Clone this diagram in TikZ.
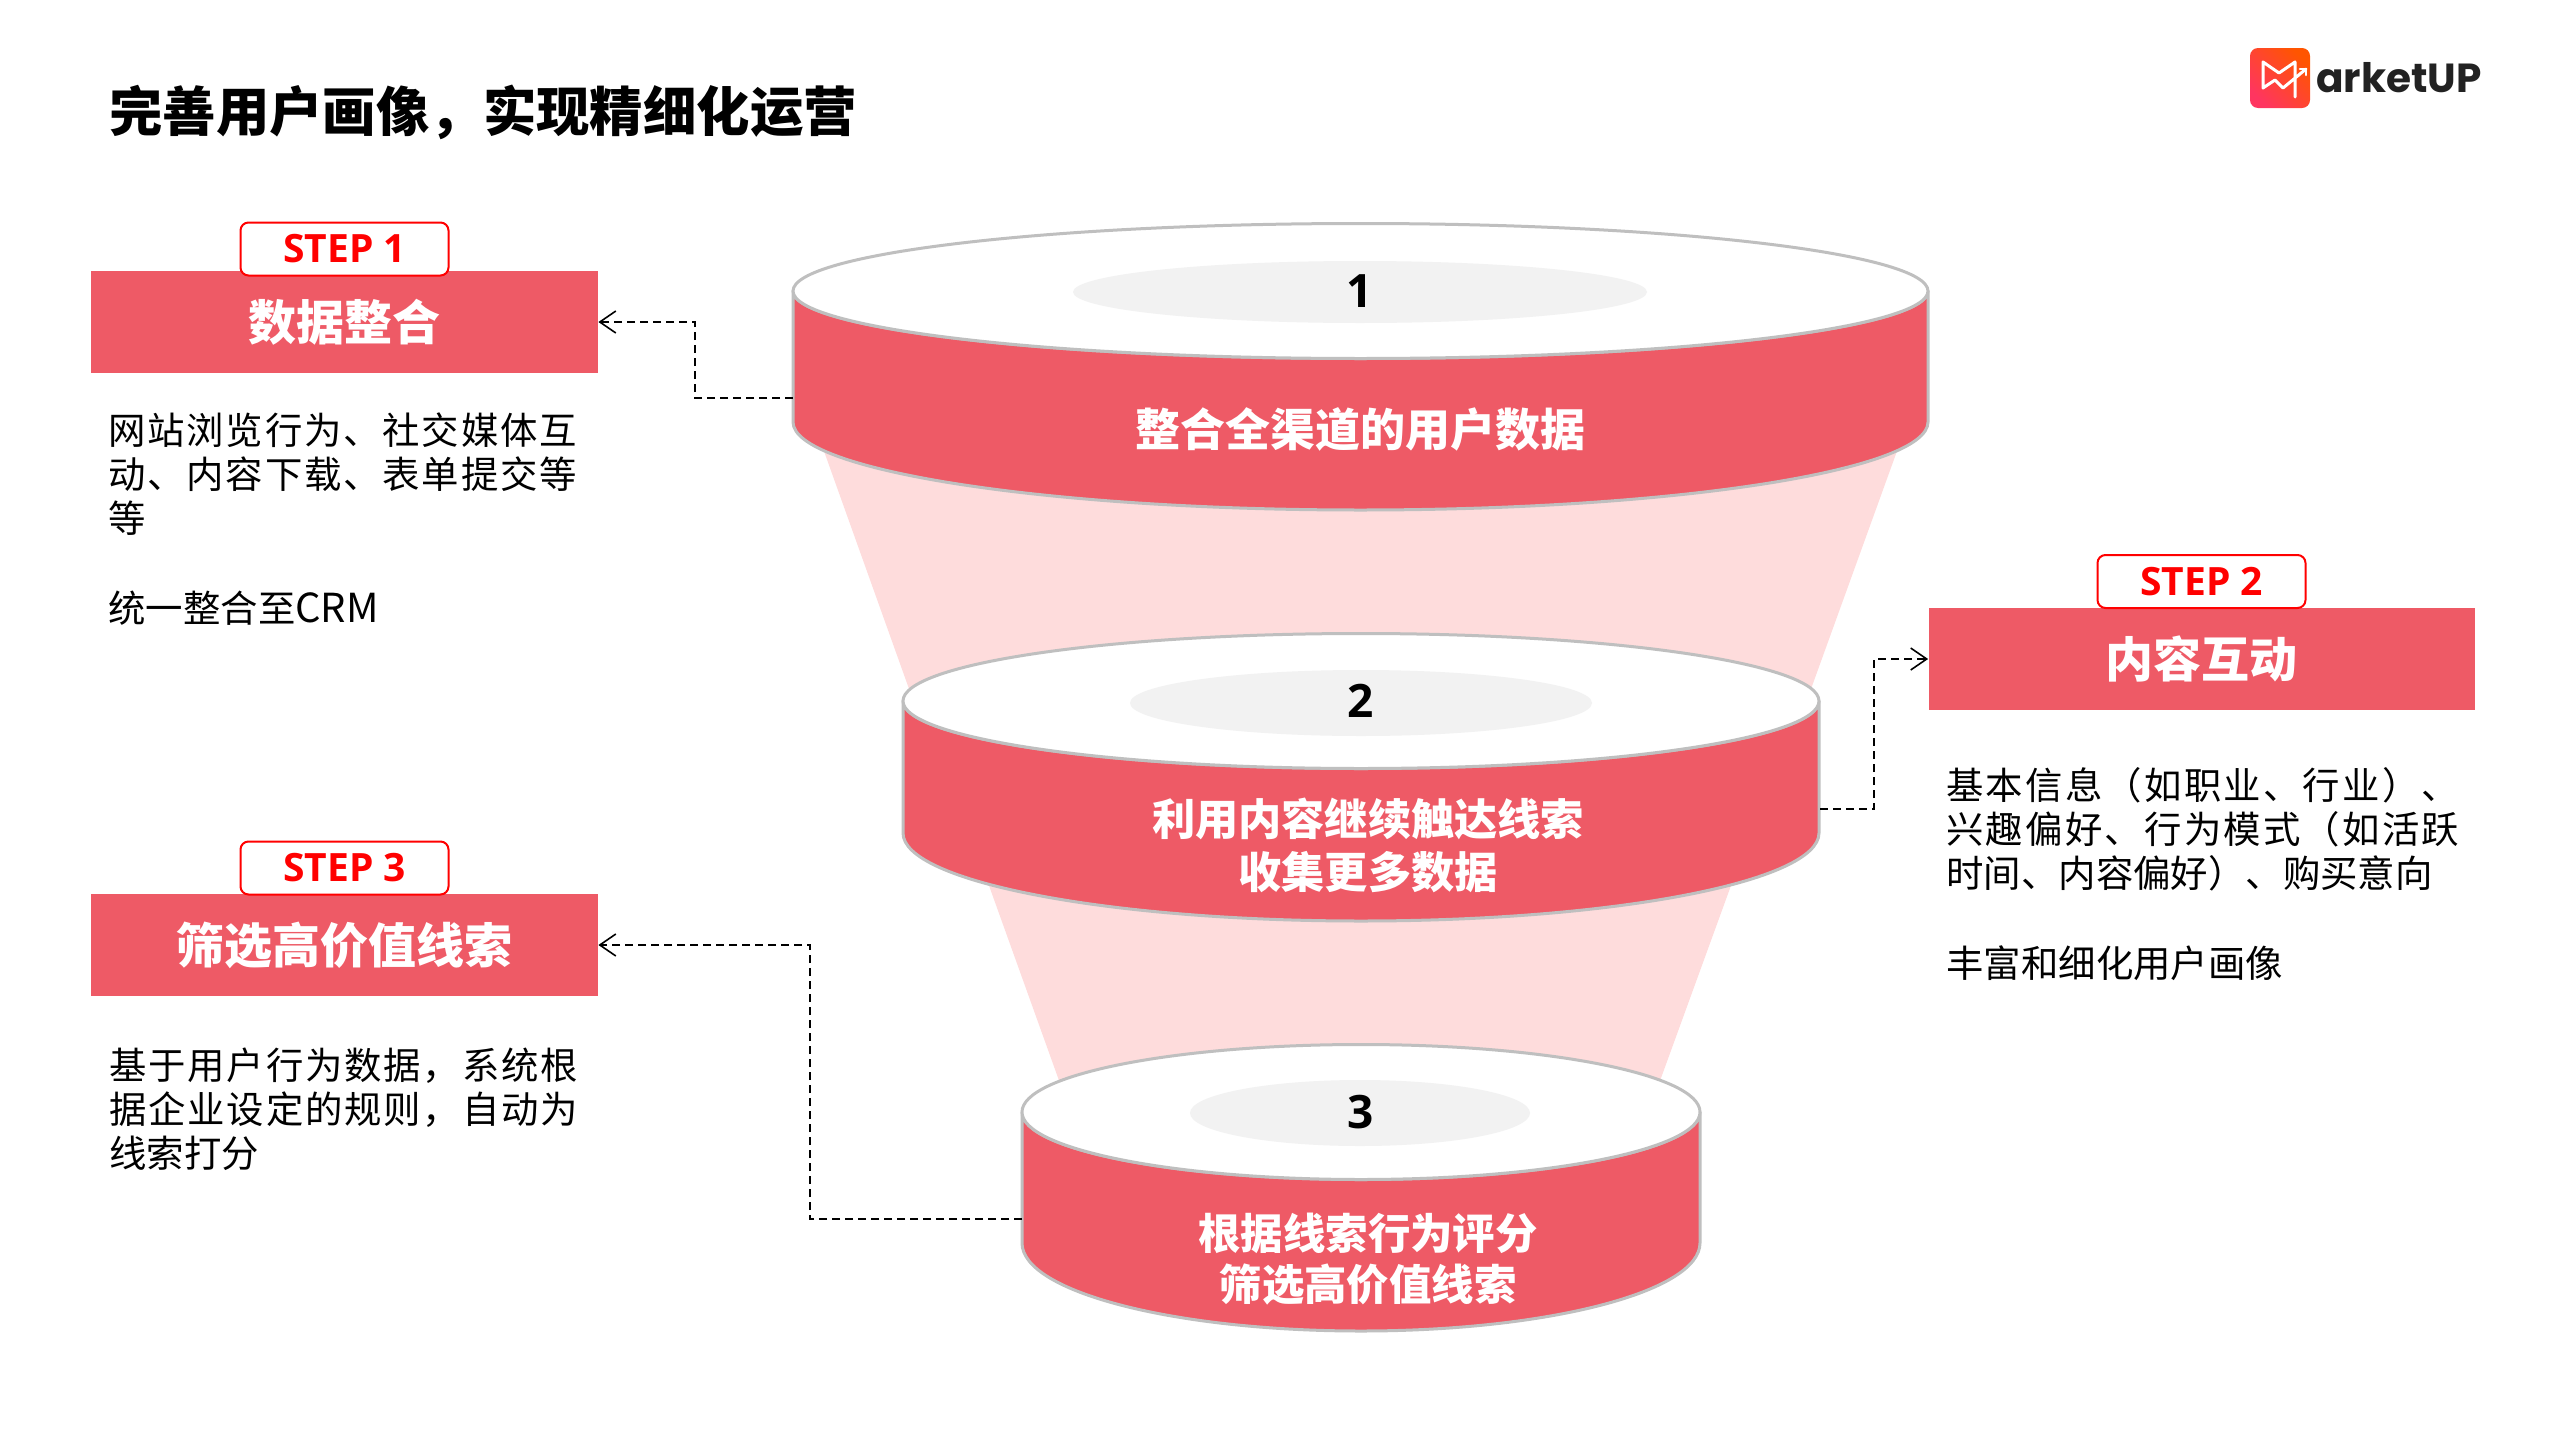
\documentclass[tikz,border=0pt]{standalone}
\usepackage{fontspec}
\setmainfont{Noto Sans CJK SC}
\newfontfamily\latinb{Open Sans}
\newfontfamily\logofont{Poppins}
\usetikzlibrary{arrows.meta}
\definecolor{boxred}{HTML}{EE5A66}
\definecolor{funnelpink}{HTML}{FEDCDC}
\definecolor{rimgrey}{HTML}{BFBFBF}
\definecolor{innergrey}{HTML}{F2F2F2}
\definecolor{logoa}{HTML}{FF3560}
\definecolor{logob}{HTML}{FF5500}
\definecolor{logotext}{HTML}{222222}
\newcommand{\diskshape}[5]{% cx, cy top, rx, ry, cy bottom-corner
  \path[fill=boxred,draw=rimgrey,line width=1.5pt,line join=round]
    (#1-#3,#2) -- (#1-#3,#5) arc[start angle=180,end angle=0,x radius=#3,y radius=88] -- (#1+#3,#2) arc[start angle=0,end angle=180,x radius=#3,y radius=#4] -- cycle;
  \path[fill=white,draw=rimgrey,line width=1.5pt] (#1,#2) ellipse[x radius=#3,y radius=#4];
}
\newcommand{\spreadA}[1]{{\addfontfeature{LetterSpace=4.8}#1}}
\newcommand{\spreadB}[1]{{\addfontfeature{LetterSpace=5.9}#1}}
\tikzset{
  x=0.5pt,y=-0.5pt,
  headbox/.style={fill=boxred,text=white,inner sep=0pt,font=\fontsize{24}{28}\selectfont\bfseries},
  stepbox/.style={draw=red,fill=white,line width=1pt,rounded corners=4pt,inner sep=0pt,text=red,minimum width=104pt,minimum height=26.5pt,font=\latinb\fontsize{19.5}{22}\selectfont\bfseries},
  bodytext/.style={anchor=north west,inner sep=0pt,align=left,font=\fontsize{18.7}{22}\selectfont,text=black},
  disklabel/.style={text=white,inner sep=0pt,align=center,font=\fontsize{21.6}{26.5}\selectfont\bfseries},
  disknum/.style={inner sep=0pt,text=black,font=\latinb\fontsize{23}{26}\selectfont\bfseries},
  link/.style={draw=black,line width=1pt,dashed,dash pattern=on 4pt off 2.5pt},
  linkhead/.style={-{Straight Barb[length=8pt,width=11pt,line width=0.8pt]}},
}
\begin{document}
\begin{tikzpicture}
\useasboundingbox (0,0) rectangle (2560,1440);
% funnels
\path[fill=funnelpink] (820,440) -- (1901,440) -- (1807,700) -- (913,700) -- cycle;
\path[fill=funnelpink] (987,880) -- (1733,880) -- (1653,1100) -- (1066,1100) -- cycle;
% disks
\diskshape{1360.5}{291}{567.5}{67.5}{422}
\path[fill=innergrey] (1360,292) ellipse[x radius=287,y radius=31];
\diskshape{1361}{701}{458}{67.5}{833}
\path[fill=innergrey] (1361,703) ellipse[x radius=231,y radius=33];
\diskshape{1361}{1112}{339}{67.5}{1243}
\path[fill=innergrey] (1360,1113) ellipse[x radius=170,y radius=33];
\coordinate (disk1w) at (793,398);
\coordinate (disk2e) at (1820,809);
\coordinate (disk3w) at (1022,1219);
% header boxes
\node[headbox,minimum width=253.5pt,minimum height=51pt] (box1) at (344.5,322) {数据整合};
\node[headbox,minimum width=273pt,minimum height=51pt] (box2) at (2201.5,659) {内容互动};
\node[headbox,minimum width=253.5pt,minimum height=51pt] (box3) at (344.5,945) {筛选高价值线索};
\node[stepbox] (step1) at (344.5,249) {STEP 1};
\node[stepbox] (step2) at (2201.5,581.5) {STEP 2};
\node[stepbox] (step3) at (344.5,868) {STEP 3};
% connectors
\draw[link,linkhead] (disk1w) -- ++(-98,0) |- (box1.east);
\draw[link,linkhead] (disk2e) -- ++(54,0) |- (box2.west);
\draw[link,linkhead] (disk3w) -- ++(-212,0) |- (box3.east);
% disk texts
\node[disknum] (n1) at (1360,291) {1};
\node[disknum] (n2) at (1361,701) {2};
\node[disknum] (n3) at (1361,1112) {3};
\node[disklabel,font=\fontsize{22.5}{26}\selectfont\bfseries] (t1) at (1360,429) {整合全渠道的用户数据};
\node[disklabel] (t2) at (1368,845) {利用内容继续触达线索\\收集更多数据};
\node[disklabel,font=\fontsize{21.2}{25.5}\selectfont\bfseries] (t3) at (1368,1259) {根据线索行为评分\\筛选高价值线索};
% title
\node[anchor=west,inner sep=0pt,font=\fontsize{26.7}{30}\selectfont\bfseries] (title) at (109,112) {完善用户画像，实现精细化运营};
% body text
\node[bodytext] (b1) at (108,412) {\spreadA{网站浏览行为、社交媒体互}\\\spreadA{动、内容下载、表单提交等}\\等\\[23pt]统一整合至{\fontsize{20}{22}\selectfont CRM}};
\node[bodytext] (b2) at (1946,767) {\spreadB{基本信息（如职业、行业）、}\\\spreadB{兴趣偏好、行为模式（如活跃}\\时间、内容偏好）、购买意向\\[23pt]丰富和细化用户画像};
\node[bodytext] (b3) at (109,1047) {\spreadA{基于用户行为数据，系统根}\\\spreadA{据企业设定的规则，自动为}\\线索打分};
% logo
\path[left color=logoa,right color=logob,shading angle=135,rounded corners=4pt] (2250,48) rectangle (2310,108);
\draw[white,line width=1.5pt,line join=round,line cap=round] (2295,97) -- (2295,62) -- (2279,73) -- (2263,62) -- (2263,88) -- (2275,80) -- (2283,88) -- (2306,69);
\draw[white,line width=1.3pt,line join=round,line cap=round] (2300,69) -- (2306,69) -- (2306,75);
\node[anchor=base west,inner sep=0pt,text=logotext,font=\logofont\fontsize{20.3}{22}\selectfont\bfseries] (logo) at (2316,92) {arketUP};
\end{tikzpicture}
\end{document}
